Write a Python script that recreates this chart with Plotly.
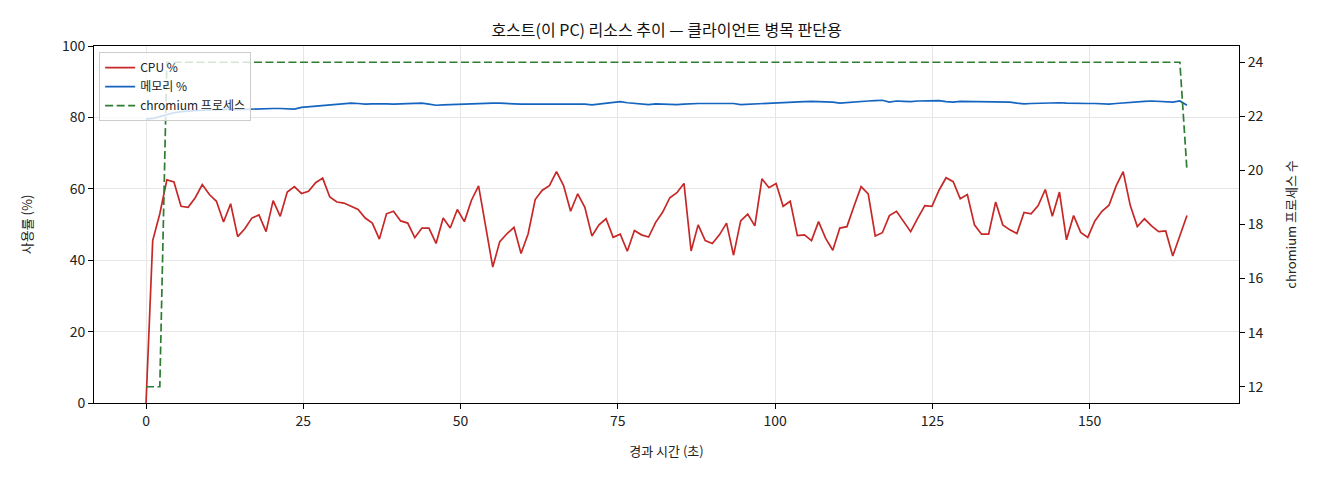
import plotly.graph_objects as go

# elapsed time (s) of each sample
elapsed_s = [
    0.00, 1.06, 2.19, 3.31, 4.44, 5.56, 6.69, 7.82, 8.94, 10.07,
    11.19, 12.32, 13.45, 14.57, 15.70, 16.82, 17.95, 19.08, 20.20, 21.33,
    22.45, 23.58, 24.71, 25.83, 26.96, 28.08, 29.21, 30.34, 31.46, 32.59,
    33.71, 34.84, 35.97, 37.09, 38.22, 39.34, 40.47, 41.60, 42.72, 43.85,
    44.97, 46.10, 47.23, 48.35, 49.48, 50.60, 51.73, 52.86, 53.98, 55.11,
    56.23, 57.36, 58.49, 59.61, 60.74, 61.86, 62.99, 64.12, 65.24, 66.37,
    67.49, 68.62, 69.75, 70.87, 72.00, 73.12, 74.25, 75.38, 76.50, 77.63,
    78.75, 79.88, 81.01, 82.13, 83.26, 84.38, 85.51, 86.64, 87.76, 88.89,
    90.01, 91.14, 92.27, 93.39, 94.52, 95.64, 96.77, 97.90, 99.02, 100.15,
    101.27, 102.40, 103.53, 104.65, 105.78, 106.90, 108.03, 109.16, 110.28, 111.41,
    112.53, 113.66, 114.79, 115.91, 117.04, 118.16, 119.29, 120.42, 121.54, 122.67,
    123.79, 124.92, 126.05, 127.17, 128.30, 129.42, 130.55, 131.68, 132.80, 133.93,
    135.05, 136.18, 137.31, 138.43, 139.56, 140.68, 141.81, 142.94, 144.06, 145.19,
    146.31, 147.44, 148.57, 149.69, 150.82, 151.94, 153.07, 154.20, 155.32, 156.45,
    157.57, 158.70, 159.83, 160.95, 162.08, 163.20, 164.33, 165.46,
]

cpu_pct = [
    0.0, 45.5, 53.0, 62.5, 61.9, 55.1, 54.8, 57.5, 61.2, 58.4,
    56.5, 50.7, 55.8, 46.6, 48.8, 51.8, 52.7, 48.0, 56.7, 52.3,
    59.1, 60.6, 58.7, 59.3, 61.7, 63.0, 57.7, 56.3, 56.0, 55.1,
    54.2, 51.8, 50.4, 45.9, 53.0, 53.7, 51.0, 50.4, 46.3, 49.0,
    49.0, 44.7, 51.8, 49.0, 54.2, 50.8, 56.8, 60.8, 49.4, 38.1,
    45.2, 47.4, 49.2, 41.9, 47.4, 57.0, 59.6, 60.9, 64.8, 60.9,
    53.7, 58.6, 54.8, 46.8, 49.9, 51.6, 46.4, 47.3, 42.5, 48.3,
    47.1, 46.5, 50.6, 53.5, 57.5, 58.9, 61.5, 42.6, 49.9, 45.5,
    44.7, 47.1, 50.4, 41.4, 51.0, 52.9, 49.6, 62.8, 60.3, 61.5,
    55.1, 56.5, 46.9, 47.1, 45.5, 50.8, 46.1, 42.8, 49.0, 49.4,
    55.1, 60.6, 58.6, 46.8, 47.7, 52.5, 53.7, 51.0, 48.0, 51.8,
    55.3, 55.1, 59.6, 63.1, 62.0, 57.2, 58.4, 49.9, 47.3, 47.3,
    56.3, 49.9, 48.5, 47.5, 53.4, 53.0, 55.3, 59.8, 52.3, 59.1,
    45.7, 52.5, 47.8, 46.4, 51.0, 53.7, 55.4, 60.8, 64.8, 55.3,
    49.4, 51.6, 49.6, 48.0, 48.2, 41.2, 46.8, 52.5,
]

mem_pct = [
    79.5, 79.7, 80.2, 80.8, 81.3, 81.6, 81.8, 82.0, 82.0, 82.1,
    82.2, 82.1, 82.3, 82.2, 82.3, 82.4, 82.3, 82.4, 82.5, 82.5,
    82.4, 82.3, 82.8, 83.0, 83.2, 83.3, 83.4, 83.8, 83.9, 84.0,
    83.9, 83.7, 83.8, 83.9, 83.8, 83.7, 83.8, 83.9, 84.0, 84.0,
    83.7, 83.4, 83.5, 83.6, 83.7, 83.8, 83.9, 84.0, 84.0, 84.0,
    84.0, 84.0, 83.8, 83.7, 83.7, 83.7, 83.8, 83.8, 83.8, 83.9,
    83.9, 83.9, 83.7, 83.5, 83.7, 83.9, 84.2, 84.4, 84.1, 83.9,
    83.7, 83.6, 83.8, 83.7, 83.7, 83.6, 83.7, 83.9, 83.9, 83.9,
    83.9, 83.9, 83.9, 83.9, 83.6, 83.7, 83.9, 83.8, 83.9, 84.1,
    84.2, 84.3, 84.4, 84.4, 84.5, 84.5, 84.4, 84.3, 84.0, 84.2,
    84.4, 84.5, 84.6, 84.7, 84.8, 84.3, 84.6, 84.5, 84.4, 84.6,
    84.6, 84.7, 84.7, 84.4, 84.3, 84.5, 84.5, 84.5, 84.5, 84.5,
    84.5, 84.5, 84.3, 84.0, 83.8, 83.9, 84.0, 84.0, 84.2, 84.1,
    84.0, 83.9, 83.9, 83.9, 83.9, 83.8, 83.7, 83.9, 84.1, 84.3,
    84.4, 84.5, 84.6, 84.5, 84.4, 84.3, 84.6, 83.4,
]

chromium_procs = [12, 12, 12] + [24] * 144 + [20]

x_ticks = [0, 25, 50, 75, 100, 125, 150]
y_ticks = [0, 20, 40, 60, 80, 100]
y2_ticks = [12, 14, 16, 18, 20, 22, 24]

FONT = "Noto Sans CJK KR, Noto Sans, sans-serif"
GRID = "#e6e6e6"

fig = go.Figure()
fig.add_trace(go.Scatter(x=elapsed_s, y=cpu_pct, mode="lines", name="CPU %",
                         line=dict(color="#c62828", width=1.7)))
fig.add_trace(go.Scatter(x=elapsed_s, y=mem_pct, mode="lines", name="메모리 %",
                         line=dict(color="#1565c0", width=1.7)))
fig.add_trace(go.Scatter(x=elapsed_s, y=chromium_procs, mode="lines", name="chromium 프로세스",
                         yaxis="y2", line=dict(color="#2e7d32", width=1.7, dash="8px,3.5px")))

axis_common = dict(showline=True, linecolor="black", linewidth=1, ticks="outside",
                   ticklen=5, tickcolor="black", zeroline=False,
                   tickfont=dict(size=14, color="#222"))

# page is offset ~8px by the body margin, so margins are shifted to compensate
fig.update_layout(
    width=1320, height=480,
    margin=dict(l=86, r=89, t=38, b=85),
    paper_bgcolor="white", plot_bgcolor="white",
    font=dict(family=FONT, color="#222"),
    title=dict(text="호스트(이 PC) 리소스 추이 — 클라이언트 병목 판단용", x=0.5, xref="paper",
               y=1 - 22 / 480, yanchor="middle", font=dict(size=16, color="#111")),
    xaxis=dict(range=[-8.27, 173.73], tickvals=x_ticks, mirror=True, showgrid=True,
               gridcolor=GRID, gridwidth=1,
               title=dict(text="경과 시간 (초)", font=dict(size=13), standoff=18),
               **axis_common),
    yaxis=dict(range=[0, 100], tickvals=y_ticks, showgrid=True, gridcolor=GRID, gridwidth=1,
               title=dict(text="사용률 (%)", font=dict(size=13), standoff=26),
               **axis_common),
    yaxis2=dict(range=[11.4, 24.6], tickvals=y2_ticks, overlaying="y", side="right",
                showgrid=False,
                title=dict(text="chromium 프로세스 수", font=dict(size=13), standoff=24),
                **axis_common),
    legend=dict(x=0.0045, y=0.983, xanchor="left", yanchor="top",
                bgcolor="rgba(255,255,255,0.8)", bordercolor="#cccccc", borderwidth=1,
                font=dict(size=12, color="#222")),
    showlegend=True,
)

fig.write_html("out.html")
